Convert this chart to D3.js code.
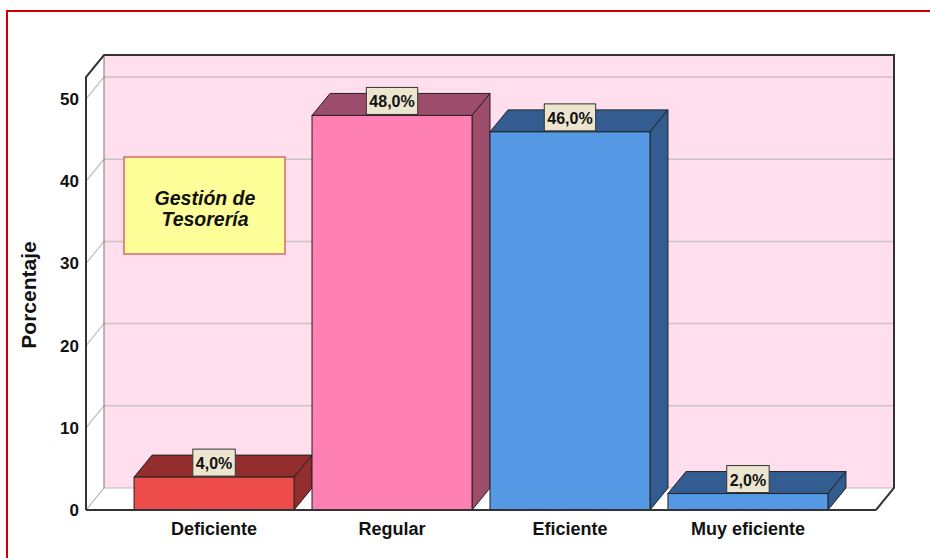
<!DOCTYPE html>
<html>
<head>
<meta charset="utf-8">
<script src="https://cdnjs.cloudflare.com/ajax/libs/d3/7.8.5/d3.min.js"></script>
<style>
  body { margin: 0; background: #fff; }
  svg { display: block; font-family: "Liberation Sans", Arial, sans-serif; }
</style>
</head>
<body>
<svg id="chart" width="930" height="558"></svg>
<script>
var categories = ["Deficiente", "Regular", "Eficiente", "Muy eficiente"];
var values = [4.0, 48.0, 46.0, 2.0];
var valueLabels = ["4,0%", "48,0%", "46,0%", "2,0%"];
var yTicks = [0, 10, 20, 30, 40, 50];
var frontColors = ["#ee4b4b", "#ff80b3", "#5599e5", "#5599e5"];
var darkColors = ["#922e2e", "#9d4d6b", "#335d90", "#335d90"];

var svg = d3.select("#chart");

// depth offset of the 3d box
var dx = 18, dy = -22;
var boxLeft = 86, boxRight = 876, boxBottom = 510, boxTop = 77;

var y = d3.scaleLinear().domain([0, 50]).range([boxBottom, 99]);
var x = d3.scaleBand().domain(categories).range([boxLeft, boxRight])
	.paddingInner(0.101).paddingOuter(0.27);

// red frame
svg.append("path")
	.attr("d", "M7,560 L7,11 L932,11")
	.attr("fill", "none").attr("stroke", "#cc0000").attr("stroke-width", 2);

// back wall
svg.append("rect")
	.attr("x", boxLeft + dx).attr("y", boxTop + dy)
	.attr("width", boxRight - boxLeft).attr("height", boxBottom - boxTop)
	.attr("fill", "#ffdeee");

// grid lines on back wall and left wall
yTicks.forEach(function(t){
	if (t === 0) return;
	svg.append("line")
		.attr("x1", boxLeft + dx).attr("x2", boxRight + dx)
		.attr("y1", y(t) + dy).attr("y2", y(t) + dy)
		.attr("stroke", "#c8c3c6").attr("stroke-width", 1.5);
	svg.append("line")
		.attr("x1", boxLeft).attr("x2", boxLeft + dx)
		.attr("y1", y(t)).attr("y2", y(t) + dy)
		.attr("stroke", "#c8c8c8").attr("stroke-width", 1.5);
});

// back wall bottom / left edges
svg.append("line")
	.attr("x1", boxLeft + dx).attr("x2", boxRight + dx)
	.attr("y1", boxBottom + dy).attr("y2", boxBottom + dy)
	.attr("stroke", "#bbbbbb").attr("stroke-width", 1);
svg.append("line")
	.attr("x1", boxLeft + dx).attr("x2", boxLeft + dx)
	.attr("y1", boxTop + dy).attr("y2", boxBottom + dy)
	.attr("stroke", "#777").attr("stroke-width", 1);
svg.append("line")
	.attr("x1", boxLeft).attr("x2", boxLeft + dx)
	.attr("y1", boxBottom).attr("y2", boxBottom + dy)
	.attr("stroke", "#999").attr("stroke-width", 1);

// outer frame of the box
svg.append("path")
	.attr("d", "M" + boxLeft + "," + boxBottom + " L" + boxLeft + "," + boxTop +
		" L" + (boxLeft + dx) + "," + (boxTop + dy) + " L" + (boxRight + dx) + "," + (boxTop + dy) +
		" L" + (boxRight + dx) + "," + (boxBottom + dy) + " L" + boxRight + "," + boxBottom)
	.attr("fill", "none").attr("stroke", "#333").attr("stroke-width", 2);

// y axis labels
svg.selectAll(".ytick").data(yTicks).enter().append("text")
	.attr("class", "ytick")
	.attr("x", 79).attr("y", function(d){ return y(d) + 6; })
	.attr("text-anchor", "end")
	.attr("font-size", 17).attr("font-weight", "bold").attr("fill", "#111")
	.text(function(d){ return d; });

svg.append("text")
	.attr("transform", "translate(36,295) rotate(-90)")
	.attr("text-anchor", "middle")
	.attr("font-size", 21).attr("font-weight", "bold").attr("fill", "#111")
	.text("Porcentaje");

// bars
var bars = svg.selectAll(".bar").data(values).enter().append("g").attr("class", "bar");
bars.each(function(v, i){
	var g = d3.select(this);
	var x0 = x(categories[i]), x1 = x0 + x.bandwidth();
	var yt = y(v);
	g.append("polygon")
		.attr("points", [[x0, yt], [x0 + dx, yt + dy], [x1 + dx, yt + dy], [x1, yt]].join(" "))
		.attr("fill", darkColors[i]).attr("stroke", "#222").attr("stroke-width", 1);
	g.append("polygon")
		.attr("points", [[x1, yt], [x1 + dx, yt + dy], [x1 + dx, boxBottom + dy], [x1, boxBottom]].join(" "))
		.attr("fill", darkColors[i]).attr("stroke", "#222").attr("stroke-width", 1);
	g.append("rect")
		.attr("x", x0).attr("y", yt).attr("width", x1 - x0).attr("height", boxBottom - yt)
		.attr("fill", frontColors[i]).attr("stroke", "#222").attr("stroke-width", 1);
});

// front floor line redrawn over bars
svg.append("line")
	.attr("x1", boxLeft).attr("x2", boxRight).attr("y1", boxBottom).attr("y2", boxBottom)
	.attr("stroke", "#333").attr("stroke-width", 2);

// value labels
values.forEach(function(v, i){
	var cx = x(categories[i]) + x.bandwidth() / 2;
	var yt = y(v);
	var t = svg.append("text")
		.attr("x", cx).attr("y", yt - 8)
		.attr("text-anchor", "middle")
		.attr("font-size", 16).attr("font-weight", "bold").attr("fill", "#111")
		.text(valueLabels[i]);
	var bb = t.node().getBBox();
	svg.insert("rect", function(){ return t.node(); })
		.attr("x", cx - bb.width / 2 - 3).attr("y", yt - 28)
		.attr("width", bb.width + 6).attr("height", 27)
		.attr("fill", "#ece5cf").attr("stroke", "#333").attr("stroke-width", 1);
});

// category labels
svg.selectAll(".xlab").data(categories).enter().append("text")
	.attr("class", "xlab")
	.attr("x", function(d){ return x(d) + x.bandwidth() / 2; })
	.attr("y", 535)
	.attr("text-anchor", "middle")
	.attr("font-size", 18).attr("font-weight", "bold").attr("fill", "#111")
	.text(function(d){ return d; });

// legend box
svg.append("rect")
	.attr("x", 124).attr("y", 157).attr("width", 161).attr("height", 97)
	.attr("fill", "#ffff99").attr("stroke", "#d46a6a").attr("stroke-width", 1.5);
svg.append("text")
	.attr("x", 205).attr("y", 205).attr("text-anchor", "middle")
	.attr("font-size", 19.5).attr("font-weight", "bold").attr("font-style", "italic").attr("fill", "#111")
	.text("Gestión de");
svg.append("text")
	.attr("x", 205).attr("y", 226).attr("text-anchor", "middle")
	.attr("font-size", 19.5).attr("font-weight", "bold").attr("font-style", "italic").attr("fill", "#111")
	.text("Tesorería");
</script>
</body>
</html>
